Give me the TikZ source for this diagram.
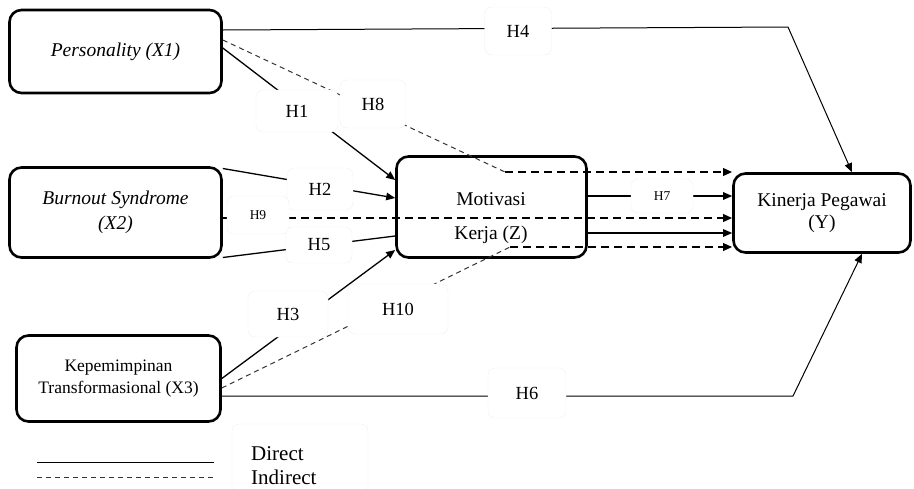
\documentclass[tikz,border=0pt]{standalone}
\usepackage{fontspec}
\setmainfont{Liberation Serif}
\usetikzlibrary{arrows.meta,calc}
\begin{document}
\begin{tikzpicture}[x=1pt,y=-1pt,
  box/.style={draw, line width=2.6pt, rounded corners=12pt, inner sep=0pt, align=center, font=\fontsize{19.5}{24}\selectfont},
  hlab/.style={fill=white, draw=black!6, rounded corners=7pt, inner sep=0pt, font=\fontsize{18.5}{20}\selectfont},
  hsmall/.style={hlab, font=\fontsize{13.5}{15}\selectfont},
  ztext/.style={anchor=base, font=\fontsize{19.5}{21}\selectfont},
  solidln/.style={line width=1.3pt},
  thinln/.style={line width=1pt},
  thinds/.style={line width=1pt, dash pattern=on 5pt off 4pt, draw=black!80},
  thickds/.style={line width=2pt, dash pattern=on 8pt off 5pt},
  arr/.style={-{Triangle[length=9pt,width=7.5pt]}},
]
\useasboundingbox (0,0) rectangle (914,488);

% main boxes
\node[box, minimum width=212pt, minimum height=83pt, font=\fontsize{19.5}{24}\selectfont\itshape] (x1) at (115.5,51.5) {Personality (X1)};
\node[box, minimum width=212pt, minimum height=90pt, font=\fontsize{19.5}{25}\selectfont\itshape] (x2) at (115.5,212.5) {Burnout Syndrome\\(X2)};
\node[box, minimum width=204pt, minimum height=86pt, font=\fontsize{17.5}{22}\selectfont] (x3) at (118.5,378.5) {Kepemimpinan\\Transformasional (X3)};
\node[box, minimum width=190pt, minimum height=101pt] (z) at (491.5,207) {};
\node[ztext] (zt1) at (491,205) {Motivasi};
\node[ztext] (zt2) at (491,239) {Kerja (Z)};
\node[box, minimum width=177pt, minimum height=79pt, font=\fontsize{19.5}{22}\selectfont] (y) at (822,213) {Kinerja Pegawai\\(Y)};

% bend points
\coordinate (b4) at (788,27);
\coordinate (b8) at (505,172);
\coordinate (b10) at (510,247);
\coordinate (b6) at (793,396);

% connectors
\draw[thinln, arr] ([yshift=21.5pt]x1.east) -- (b4) -- ([xshift=30pt]y.north);
\draw[solidln, arr] ([yshift=3.5pt]x1.east) -- ([yshift=27pt]z.west);
\draw[thinds] ([yshift=11.5pt]x1.east) -- (b8);
\draw[thickds, arr] (b8) -- ([yshift=41pt]y.west);
\draw[solidln, arr] ([yshift=44pt]x2.east) -- ([yshift=9pt]z.west);
\draw[thickds, arr] ([yshift=-5.5pt]x2.east) -- ([yshift=-5pt]y.west);
\draw[solidln] ([yshift=-45pt]x2.east) -- ([yshift=-29pt]z.west);
\draw[solidln, arr] ([yshift=-26pt]z.east) -- ([yshift=-20pt]y.west);
\draw[solidln, arr] ([yshift=11pt]z.east) -- ([yshift=17pt]y.west);
\draw[solidln, arr] (x3.east) -- ([yshift=-43pt]z.west);
\draw[thinds] ([yshift=-9.5pt]x3.east) -- (b10);
\draw[thickds, arr] (b10) -- ([yshift=-34pt]y.west);
\draw[thinln, arr] ([yshift=-17.5pt]x3.east) -- (b6) -- ([xshift=40pt]y.south);

% hypothesis labels
\node[hlab, minimum width=67pt, minimum height=48pt] (l4) at (518,31) {H4};
\node[hlab, minimum width=82pt, minimum height=42pt] (l1) at (297,111) {H1};
\node[hlab, minimum width=66pt, minimum height=48pt] (l8) at (373,104) {H8};
\node[hlab, minimum width=66pt, minimum height=42pt] (l2) at (320,189) {H2};
\node[hsmall, minimum width=62pt, minimum height=38pt] (l9) at (258,215) {H9};
\node[hlab, minimum width=66pt, minimum height=36pt] (l5) at (319,245) {H5};
\node[hlab, minimum width=80pt, minimum height=46pt] (l3) at (288,314) {H3};
\node[hlab, minimum width=100pt, minimum height=50pt] (l10) at (398,309) {H10};
\node[hsmall, minimum width=62pt, minimum height=34pt] (l7) at (662,196) {H7};
\node[hlab, minimum width=78pt, minimum height=50pt] (l6) at (527,393) {H6};

% legend
\node[hlab, minimum width=136pt, minimum height=70pt] (lg) at (300,459) {};
\coordinate (ls1) at (37,462);
\coordinate (ls2) at (214,462);
\coordinate (ld1) at (37,477);
\coordinate (ld2) at (214,477);
\draw[thinln] (ls1) -- (ls2);
\draw[thinds] (ld1) -- (ld2);
\node[anchor=base west, font=\fontsize{21}{23}\selectfont, inner sep=0pt] (dtxt) at (251,460) {Direct};
\node[anchor=base west, font=\fontsize{21}{23}\selectfont, inner sep=0pt] (itxt) at (251,484) {Indirect};
\end{tikzpicture}
\end{document}
